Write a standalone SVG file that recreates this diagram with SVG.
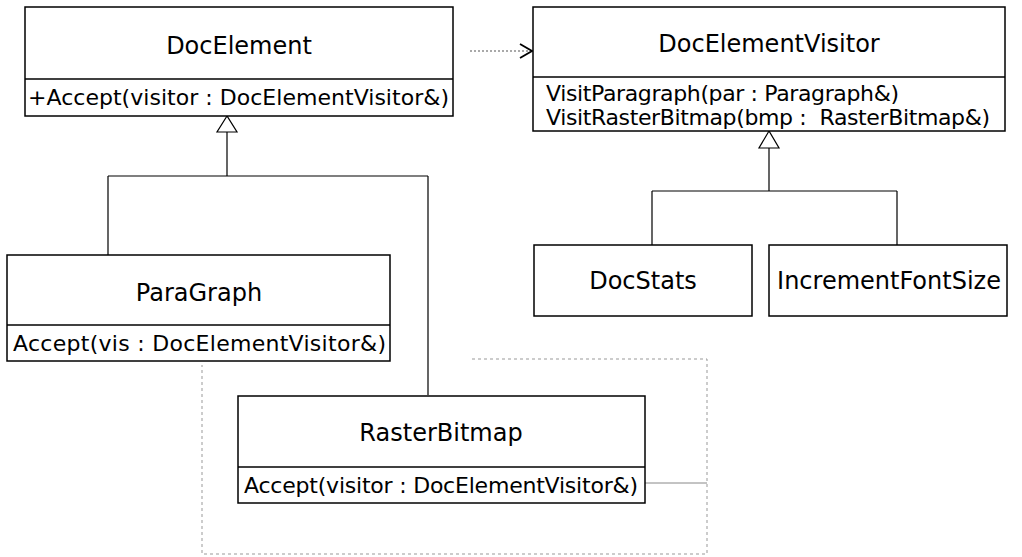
<svg xmlns="http://www.w3.org/2000/svg" width="1022" height="557" viewBox="0 0 1022 557">
<style>
.box{fill:#fff;stroke:#000;stroke-width:1.5}
.sep{stroke:#000;stroke-width:1.5}
.title{font-family:"DejaVu Sans",Verdana,sans-serif;font-size:24px;fill:#000;text-anchor:middle}
.mem{font-family:"DejaVu Sans",Verdana,sans-serif;font-size:22px;fill:#000}
.line{fill:none;stroke:#000;stroke-width:1.2}
.tri{fill:#fff;stroke:#000;stroke-width:1.2}
.dep{fill:none;stroke:#555;stroke-width:1.2;stroke-dasharray:2,2}
.frame{fill:none;stroke:#999;stroke-width:1;stroke-dasharray:3,3}
</style>
<defs>
<marker id="open" markerWidth="14" markerHeight="18" refX="13" refY="9" orient="auto" markerUnits="userSpaceOnUse">
<path d="M1,2 L13,9 L1,16" fill="none" stroke="#000" stroke-width="1.8"/>
</marker>
</defs>
<rect width="1022" height="557" fill="#fff"/>
<g id="connectors">
<path class="line" d="M227,132 V176 M108,176 H428 M108,176 V255 M428,176 V395"/>
<polygon class="tri" points="227,116 217,132 237,132"/>
<path class="line" d="M769,148 V191 M652,191 H897 M652,191 V245 M897,191 V245"/>
<polygon class="tri" points="769,131 759,148 779,148"/>
<path class="dep" d="M470,51 H532" marker-end="url(#open)"/>
<path class="frame" d="M472,359 H707 V554 H202 V365"/>
<path d="M645,483 H707" fill="none" stroke="#888" stroke-width="1"/>
</g>
<g id="DocElement">
<rect class="box" x="25" y="7" width="428" height="109"/>
<line class="sep" x1="25" y1="79" x2="453" y2="79"/>
<text class="title" x="239" y="54">DocElement</text>
<text class="mem" x="28" y="105" textLength="421">+Accept(visitor : DocElementVisitor&amp;)</text>
</g>
<g id="DocElementVisitor">
<rect class="box" x="533" y="7" width="472" height="124"/>
<line class="sep" x1="533" y1="77" x2="1005" y2="77"/>
<text class="title" x="769" y="52">DocElementVisitor</text>
<text class="mem" x="546" y="101" textLength="353">VisitParagraph(par : Paragraph&amp;)</text>
<text class="mem" x="546" y="125" textLength="444" xml:space="preserve">VisitRasterBitmap(bmp :  RasterBitmap&amp;)</text>
</g>
<g id="DocStats">
<rect class="box" x="534" y="245" width="218" height="71"/>
<text class="title" x="643" y="289">DocStats</text>
</g>
<g id="IncrementFontSize">
<rect class="box" x="769" y="245" width="238" height="71"/>
<text class="title" x="889" y="289">IncrementFontSize</text>
</g>
<g id="ParaGraph">
<rect class="box" x="7" y="255" width="383" height="106"/>
<line class="sep" x1="7" y1="325" x2="390" y2="325"/>
<text class="title" x="199" y="301">ParaGraph</text>
<text class="mem" x="13" y="351" textLength="373">Accept(vis : DocElementVisitor&amp;)</text>
</g>
<g id="RasterBitmap">
<rect class="box" x="238" y="396" width="407" height="107"/>
<line class="sep" x1="238" y1="467" x2="645" y2="467"/>
<text class="title" x="441" y="441">RasterBitmap</text>
<text class="mem" x="244" y="493" textLength="394">Accept(visitor : DocElementVisitor&amp;)</text>
</g>
</svg>
